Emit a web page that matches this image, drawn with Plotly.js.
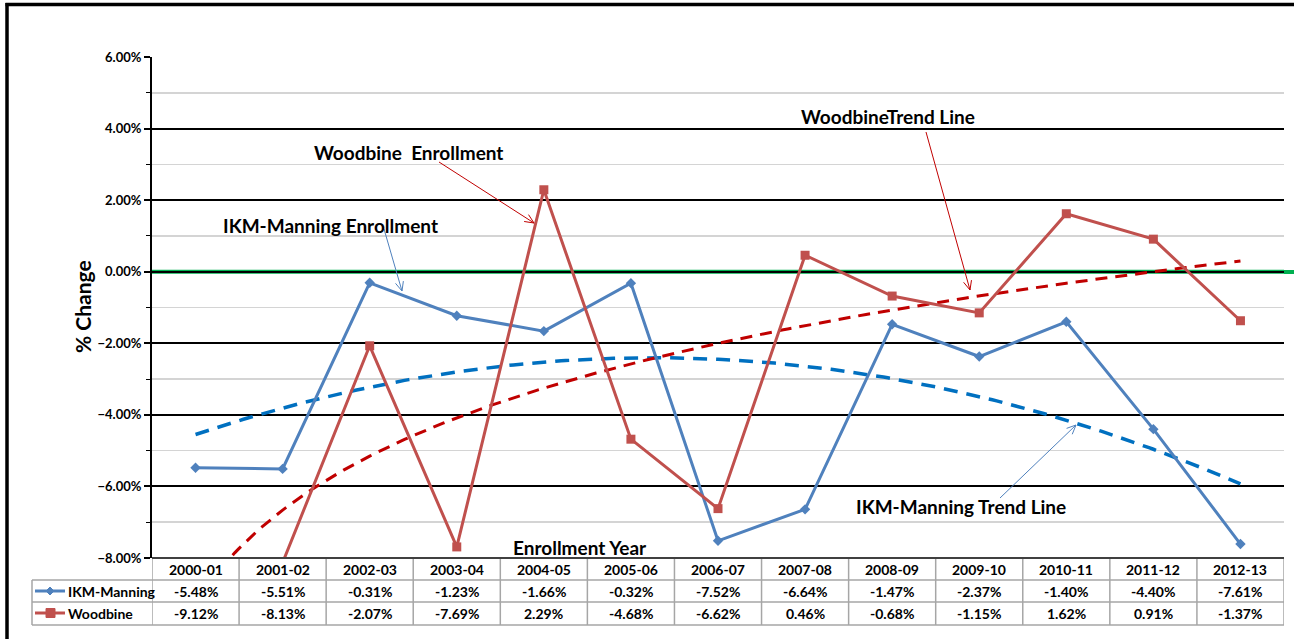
<!DOCTYPE html>
<html>
<head>
<meta charset="utf-8">
<script src="https://cdn.plot.ly/plotly-3.0.1.min.js"></script>
<style>
  html, body { margin: 0; padding: 0; background: #fff; overflow: hidden; }
  #chart { width: 1294px; height: 639px; }
</style>
</head>
<body>
<div id="chart"></div>
<script>
// ---- Data ----
const categories = ['2000-01','2001-02','2002-03','2003-04','2004-05','2005-06','2006-07','2007-08','2008-09','2009-10','2010-11','2011-12','2012-13'];
const ikmManning = [-5.48, -5.51, -0.31, -1.23, -1.66, -0.32, -7.52, -6.64, -1.47, -2.37, -1.40, -4.40, -7.61];
const woodbine   = [-9.12, -8.13, -2.07, -7.69, 2.29, -4.68, -6.62, 0.46, -0.68, -1.15, 1.62, 0.91, -1.37];
const seriesNames = ['IKM-Manning', 'Woodbine'];

// ---- Layout helpers (pixel -> paper) ----
const PL = 152, PR = 1284, PT = 57, PB = 558;
const W = PR - PL, H = PB - PT;
const px = p => (p - PL) / W;
const py = p => (PB - p) / H;

const FONT = 'Lato, "Open Sans", sans-serif';
const xIdx = categories.map((c, i) => i + 1);

// ---- Trend lines (Excel-style fits) ----
function quadFit(xs, ys) {
  let S = [0,0,0,0,0], T = [0,0,0];
  xs.forEach((x, i) => {
    for (let k = 0; k < 5; k++) S[k] += Math.pow(x, k);
    for (let k = 0; k < 3; k++) T[k] += Math.pow(x, k) * ys[i];
  });
  const A = [[S[0],S[1],S[2],T[0]],[S[1],S[2],S[3],T[1]],[S[2],S[3],S[4],T[2]]];
  for (let c = 0; c < 3; c++) {
    for (let r = c + 1; r < 3; r++) {
      const f = A[r][c] / A[c][c];
      for (let k = c; k < 4; k++) A[r][k] -= f * A[c][k];
    }
  }
  const s = [0,0,0];
  for (let r = 2; r >= 0; r--) {
    let v = A[r][3];
    for (let k = r + 1; k < 3; k++) v -= A[r][k] * s[k];
    s[r] = v / A[r][r];
  }
  return x => s[0] + s[1] * x + s[2] * x * x;
}
function logFit(xs, ys) {
  const L = xs.map(Math.log), n = xs.length;
  const mL = L.reduce((a,b)=>a+b,0)/n, mY = ys.reduce((a,b)=>a+b,0)/n;
  let sxy = 0, sxx = 0;
  L.forEach((l, i) => { sxy += (l - mL) * (ys[i] - mY); sxx += (l - mL) * (l - mL); });
  const b = sxy / sxx, a = mY - b * mL;
  return x => a + b * Math.log(x);
}
const ikmTrendFn = quadFit(xIdx, ikmManning);
const wbTrendFn = logFit(xIdx, woodbine);
const tx = [];
for (let x = 1; x <= 13.0001; x += 0.05) tx.push(x);

const pct = v => v / 100;

const traces = [
  { x: tx, y: tx.map(x => pct(ikmTrendFn(x))), mode: 'lines', line: { color: '#0070C0', width: 3.5, dash: '14px,9px' }, hoverinfo: 'skip', showlegend: false },
  { x: tx, y: tx.map(x => pct(wbTrendFn(x))), mode: 'lines', line: { color: '#C00000', width: 3, dash: '12px,8px' }, hoverinfo: 'skip', showlegend: false },
  { x: xIdx, y: ikmManning.map(pct), name: seriesNames[0], mode: 'lines+markers',
    line: { color: '#4F81BD', width: 3 }, marker: { symbol: 'diamond', size: 8, color: '#4F81BD' }, showlegend: false },
  { x: xIdx, y: woodbine.map(pct), name: seriesNames[1], mode: 'lines+markers',
    line: { color: '#C0504D', width: 3 }, marker: { symbol: 'square', size: 9, color: '#C0504D' }, showlegend: false }
];

// ---- Shapes ----
const gridCol = '#a6a6a6';
const shapes = [];
// outer chart border (only top and left edges are visible)
shapes.push({ type: 'line', xref: 'paper', yref: 'paper', x0: px(5.5), x1: px(1294), y0: py(4.5), y1: py(4.5), line: { color: '#000', width: 3.5 } });
shapes.push({ type: 'line', xref: 'paper', yref: 'paper', x0: px(7), x1: px(7), y0: py(3), y1: py(639), line: { color: '#000', width: 3.5 } });
// green zero line: inside plot area, plus a stub to the page edge
shapes.push({ type: 'line', xref: 'paper', yref: 'y', x0: 0, x1: 1, y0: 0, y1: 0,
  line: { color: '#00B050', width: 4 }, layer: 'between' });
shapes.push({ type: 'line', xref: 'paper', yref: 'paper', x0: 1, x1: px(1294), y0: py(272), y1: py(272),
  line: { color: '#00B050', width: 4 } });
// data table grid
const rowY = [py(580), py(602), py(625)];
rowY.forEach(y => shapes.push({ type: 'line', xref: 'paper', yref: 'paper', x0: px(32), x1: 1, y0: y, y1: y, line: { color: gridCol, width: 1.5 } }));
shapes.push({ type: 'line', xref: 'paper', yref: 'paper', x0: px(32), x1: px(32), y0: rowY[0], y1: rowY[2], line: { color: gridCol, width: 1.5 } });
for (let i = 0; i <= categories.length; i++) {
  shapes.push({ type: 'line', xref: 'x', yref: 'paper', x0: i + 0.5, x1: i + 0.5, y0: 0, y1: rowY[2], line: { color: gridCol, width: 1.5 } });
}
// table top line (x axis)
shapes.push({ type: 'line', xref: 'paper', yref: 'paper', x0: 0, x1: 1, y0: 0, y1: 0, line: { color: '#404040', width: 2 } });
// legend keys in table
shapes.push({ type: 'line', xref: 'paper', yref: 'paper', x0: px(35), x1: px(65), y0: py(591), y1: py(591), line: { color: '#4F81BD', width: 3 } });
shapes.push({ type: 'path', xref: 'paper', yref: 'paper',
  path: `M ${px(50)} ${py(587)} L ${px(54)} ${py(591)} L ${px(50)} ${py(595)} L ${px(46)} ${py(591)} Z`,
  fillcolor: '#4F81BD', line: { color: '#4F81BD', width: 1 } });
shapes.push({ type: 'line', xref: 'paper', yref: 'paper', x0: px(35), x1: px(65), y0: py(613), y1: py(613), line: { color: '#C0504D', width: 3 } });
shapes.push({ type: 'rect', xref: 'paper', yref: 'paper', x0: px(46), x1: px(55), y0: py(617.5), y1: py(608.5),
  fillcolor: '#C0504D', line: { color: '#C0504D', width: 1 } });

// callout arrows (thin line with open V head)
function arrow(tailX, tailY, hx, hy, color) {
  const dx = hx - tailX, dy = hy - tailY, len = Math.hypot(dx, dy);
  const ux = dx / len, uy = dy / len, hl = 10, a = 0.42;
  const wing = s => {
    const c = Math.cos(s * a), sn = Math.sin(s * a);
    const rx = ux * c - uy * sn, ry = ux * sn + uy * c;
    return [hx - hl * rx, hy - hl * ry];
  };
  const w1 = wing(1), w2 = wing(-1);
  shapes.push({ type: 'line', xref: 'paper', yref: 'paper', x0: px(tailX), y0: py(tailY), x1: px(hx), y1: py(hy), line: { color: color, width: 1 } });
  shapes.push({ type: 'path', xref: 'paper', yref: 'paper',
    path: `M ${px(w1[0])} ${py(w1[1])} L ${px(hx)} ${py(hy)} L ${px(w2[0])} ${py(w2[1])}`, line: { color: color, width: 1 } });
}
arrow(439, 162, 534, 223, '#C00000');
arrow(384, 229, 402, 291, '#4F81BD');
arrow(926, 132, 970, 290, '#C00000');
arrow(1000, 498, 1076, 425, '#4F81BD');

// ---- Annotations ----
const ann = [];
const T = (x, y, text, font, extra) => Object.assign({ xref: 'paper', yref: 'paper', x: x, y: y, text: text,
  showarrow: false, xanchor: 'center', yanchor: 'middle', font: font }, extra || {});
const cellFont = { family: FONT, size: 14, color: '#000', weight: 700 };
categories.forEach((c, i) => {
  ann.push(T(i + 1, py(569.5), '<b>' + c + '</b>', cellFont, { xref: 'x' }));
  ann.push(T(i + 1, py(591.5), '<b>' + ikmManning[i].toFixed(2) + '%</b>', cellFont, { xref: 'x' }));
  ann.push(T(i + 1, py(613.5), '<b>' + woodbine[i].toFixed(2) + '%</b>', cellFont, { xref: 'x' }));
});
ann.push(T(px(66), py(591.5), '<b>' + seriesNames[0] + '</b>', cellFont, { xanchor: 'left' }));
ann.push(T(px(66), py(613.5), '<b>' + seriesNames[1] + '</b>', cellFont, { xanchor: 'left' }));

const labelFont = { family: FONT, size: 19, color: '#000' };
// axis titles
ann.push(T(px(82), py(307), '<b>% Change</b>', { family: FONT, size: 21, color: '#000' }, { textangle: -90 }));
ann.push(T(px(580), py(547), '<b>Enrollment Year</b>', { family: FONT, size: 19, color: '#000' }));
// callout labels
ann.push(T(px(408), py(153), '<b>Woodbine\u00a0 Enrollment</b>', labelFont));
ann.push(T(px(330), py(225), '<b>IKM-Manning Enrollment</b>', labelFont));
ann.push(T(px(888), py(116), '<b>WoodbineTrend Line</b>', labelFont));
ann.push(T(px(961), py(506), '<b>IKM-Manning Trend Line</b>', labelFont));

const layout = {
  width: 1294, height: 639,
  margin: { l: PL, r: 1294 - PR, t: PT, b: 639 - PB },
  paper_bgcolor: '#fff', plot_bgcolor: '#fff',
  showlegend: false,
  xaxis: { range: [0.5, 13.5], showticklabels: false, showgrid: false, zeroline: false, showline: false, ticks: '', fixedrange: true },
  yaxis: {
    range: [-0.08, 0.06], dtick: 0.02, tick0: 0, tickformat: '.2%',
    showgrid: true, gridcolor: '#000', gridwidth: 2, zeroline: false,
    showline: true, linecolor: '#000', linewidth: 2,
    ticks: 'outside', ticklen: 6, tickwidth: 2, tickcolor: '#000',
    tickfont: { family: FONT, size: 13, color: '#000', weight: 700 },
    minor: { dtick: 0.01, showgrid: true, gridcolor: '#d4d4d4', gridwidth: 1.5, ticks: 'outside', ticklen: 4, tickcolor: '#000', tickwidth: 1 },
    fixedrange: true
  },
  shapes: shapes,
  annotations: ann
};

Plotly.newPlot('chart', traces, layout, { displayModeBar: false, staticPlot: true });
</script>
</body>
</html>
